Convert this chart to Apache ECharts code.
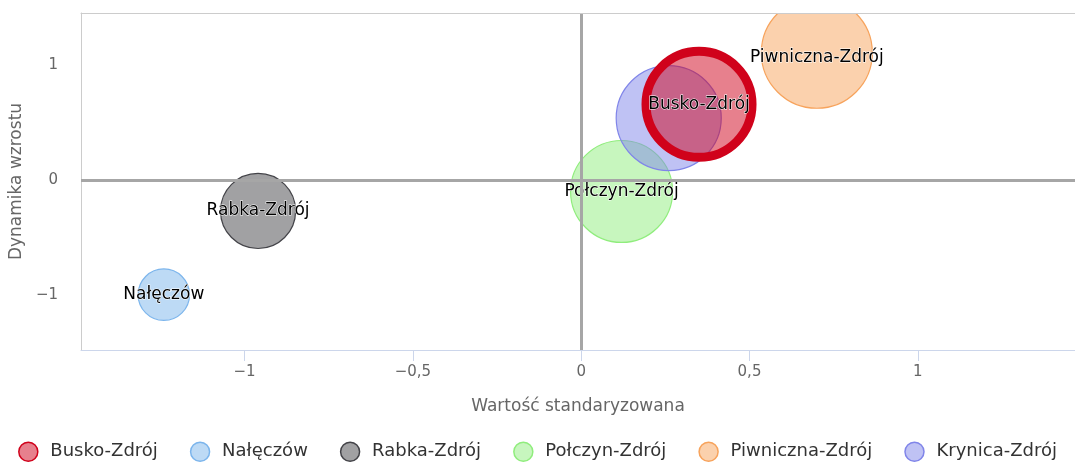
<!DOCTYPE html>
<html>
<head>
<meta charset="utf-8">
<script src="https://cdn.jsdelivr.net/npm/echarts@6/dist/echarts.min.js"></script>
<style>
html,body{margin:0;padding:0;background:#fff;}
#chart{width:1075px;height:470px;}
</style>
</head>
<body>
<div id="chart"></div>
<script>
// Data
const names = ['Busko-Zdrój', 'Nałęczów', 'Rabka-Zdrój', 'Połczyn-Zdrój', 'Piwniczna-Zdrój', 'Krynica-Zdrój'];
const xValues = [0.35, -1.24, -0.96, 0.12, 0.70, 0.26];
const yValues = [0.66, -1.00, -0.27, -0.10, 1.11, 0.54];
const zValues = [28.1, 6.6, 14.1, 26.0, 30.8, 27.6];
const showLabel = [true, true, true, true, true, false];
const xTicks = [-1, -0.5, 0, 0.5, 1];
const yTicks = [-1, 0, 1];

const colors = ['#d0021b', '#7cb5ec', '#434348', '#90ed7d', '#f7a35c', '#8085e9'];
function rgba(hex, a) {
  const n = parseInt(hex.slice(1), 16);
  return 'rgba(' + ((n >> 16) & 255) + ',' + ((n >> 8) & 255) + ',' + (n & 255) + ',' + a + ')';
}
const fmt = v => String(v).replace('-', '\u2212').replace('.', ',');
const FONT = 'DejaVu Sans';

const series = names.map((name, i) => ({
  name: name,
  type: 'custom',
  coordinateSystem: 'cartesian2d',
  clip: true,
  z: i === 0 ? 5 : 3,
  silent: true,
  data: [[xValues[i], yValues[i], zValues[i]]],
  encode: { x: 0, y: 1 },
  itemStyle: {
    color: rgba(colors[i], 0.5),
    borderColor: colors[i],
    borderWidth: 1.5
  },
  renderItem: function (params, api) {
    const p = api.coord([api.value(0), api.value(1)]);
    const r = 10 * Math.sqrt(api.value(2));
    const children = [{
      type: 'circle',
      shape: { cx: p[0], cy: p[1], r: r },
      style: {
        fill: rgba(colors[i], 0.5),
        stroke: colors[i],
        lineWidth: i === 0 ? 9 : 1.2
      }
    }];
    if (showLabel[i]) {
      children.push({
        type: 'text',
        x: p[0],
        y: p[1] + (name === 'Piwniczna-Zdrój' ? 5 : 0),
        style: {
          text: name,
          fill: '#000',
          font: '17px "' + FONT + '"',
          align: 'center',
          verticalAlign: 'middle',
          stroke: '#fff',
          lineWidth: 1
        }
      });
    }
    return { type: 'group', children: children };
  }
}));

series.push({
  type: 'scatter',
  name: '_zero',
  data: [],
  z: 1,
  silent: true,
  markLine: {
    silent: true,
    symbol: 'none',
    label: { show: false },
    lineStyle: { color: '#a6a6a6', width: 3, type: 'solid' },
    data: [{ xAxis: 0 }, { yAxis: 0 }]
  }
});

const chart = echarts.init(document.getElementById('chart'), null, { renderer: 'canvas' });
chart.setOption({
  animation: false,
  backgroundColor: '#fff',
  grid: { left: 80, right: 0, top: 13, bottom: 120, containLabel: false },
  legend: {
    bottom: 3,
    left: 'center',
    data: names,
    icon: 'circle',
    itemWidth: 34,
    itemHeight: 19,
    itemGap: 32,
    itemStyle: { borderWidth: 1.5 },
    textStyle: { color: '#333', fontFamily: FONT, fontSize: 18 }
  },
  xAxis: [{
    type: 'value',
    min: -1.486,
    max: 1.467,
    name: 'Wartość standaryzowana',
    nameLocation: 'middle',
    nameGap: 48,
    nameTextStyle: { color: '#666', fontFamily: FONT, fontSize: 17 },
    axisLine: { show: true, onZero: false, lineStyle: { color: '#ccd6eb', width: 1 } },
    axisTick: { show: true, length: 11, customValues: xTicks, lineStyle: { color: '#ccd6eb' } },
    axisLabel: { customValues: xTicks, formatter: fmt, color: '#666', fontFamily: FONT, fontSize: 15, margin: 15 },
    splitLine: { show: false }
  }, {
    type: 'value',
    position: 'top',
    z: 10,
    min: -1.486,
    max: 1.467,
    axisLine: { show: true, onZero: false, lineStyle: { color: '#cccccc', width: 1 } },
    axisTick: { show: false },
    axisLabel: { show: false },
    splitLine: { show: false }
  }],
  yAxis: {
    type: 'value',
    min: -1.483,
    max: 1.457,
    name: 'Dynamika wzrostu',
    nameLocation: 'middle',
    nameRotate: 90,
    nameGap: 46,
    nameTextStyle: { color: '#666', fontFamily: FONT, fontSize: 17 },
    axisLine: { show: true, onZero: false, lineStyle: { color: '#cccccc', width: 1 } },
    axisTick: { show: false },
    axisLabel: { customValues: yTicks, formatter: fmt, color: '#666', fontFamily: FONT, fontSize: 15, margin: 23 },
    splitLine: { show: false }
  },
  series: series
});
</script>
</body>
</html>
